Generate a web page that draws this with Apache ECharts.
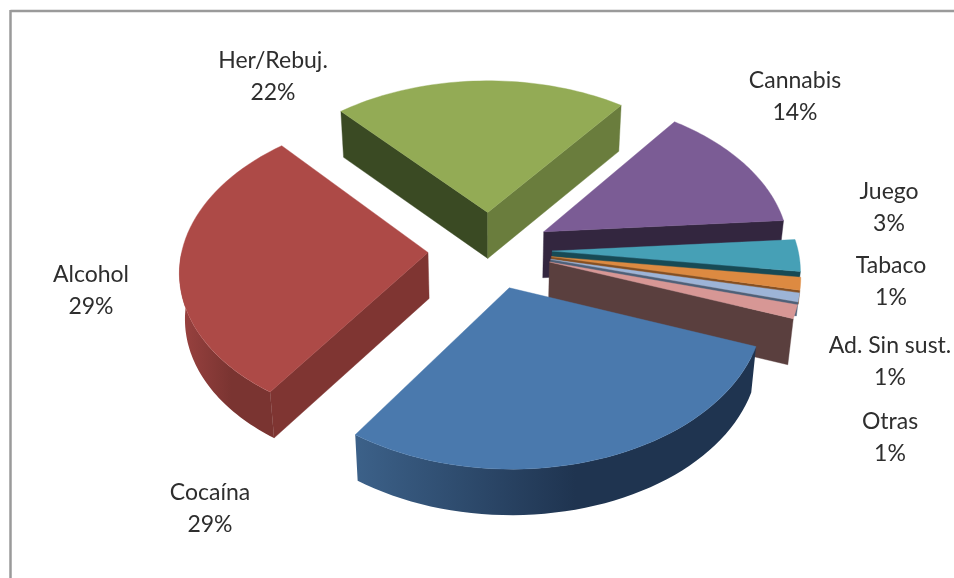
<!DOCTYPE html>
<html>
<head>
    <meta charset="utf-8" />
    <script src="https://cdn.jsdelivr.net/npm/echarts@6/dist/echarts.min.js"></script>
    <style>
        html, body { margin: 0; padding: 0; background: #fff; }
    </style>
</head>
<body>
    <div id="main" style="width:954px;height:578px;"></div>
    <script type="text/javascript">
        // values, clockwise from the start angle
        var categories = ['Cocaína', 'Alcohol', 'Her/Rebuj.', 'Cannabis', 'Juego', 'Tabaco', 'Ad. Sin sust.', 'Otras'];
        var shares = [28.8, 29.0, 21.8, 13.5, 3.3, 1.3, 0.9, 1.4];

        // colours per slice
        var topColors = ['#4a79ad', '#ad4a47', '#93ab55', '#7b5c95', '#46a0b6', '#dd8a41', '#9db4d7', '#d79795'];
        var startCutColors = ['#2b4668', '#7f3532', '#3a4a23', '#4a3859', '#1f5a68', '#854f22', '#4e6078', '#5a3f3e'];
        var endCutColors = ['#2b4668', '#823733', '#6a7d3d', '#33263f', '#174a55', '#854f22', '#4e6078', '#5a3f3e'];
        var sideLeftColors = ['#3c6189', '#9a4240', '#6a7d3d', '#4a3859', '#1f5a68', '#854f22', '#4e6078', '#5a3f3e'];
        var sideRightColors = ['#1f3450', '#7a3431', '#6a7d3d', '#4a3859', '#1f5a68', '#854f22', '#4e6078', '#5a3f3e'];

        // label anchors in the picture (centre of the two text lines)
        var labelAnchors = [[210, 509], [91, 291], [273, 77], [795, 97], [889, 208], [891, 282], [890, 362], [890, 438]];

        var START_ANGLE = 110.5;  // degrees clockwise from the back of the pie
        var CX = 490, CY = 250;   // where the pie axis meets the picture
        var RADIUS = 246;
        var EXPLODE = 62;
        var TILT = 0.623;
        var FOCAL = 2300;
        var DEPTH = 46;
        var THIN_DEPTH = 14;      // thin slices sit on each other, only a band of their side shows
        var THIN_SHARE = 5;
        var SHRINK_PER_PX = 0.018 / 46;
        var ARC_STEPS = 48;

        var total = shares.reduce(function (a, b) { return a + b; }, 0);
        var slices = [];
        var cursor = START_ANGLE;
        shares.forEach(function (v, i) {
            var sweep = v / total * 360;
            slices.push({
                index: i,
                from: cursor,
                to: cursor + sweep,
                mid: cursor + sweep / 2,
                depth: (v < THIN_SHARE && i < shares.length - 1) ? THIN_DEPTH : DEPTH
            });
            cursor += sweep;
        });
        // paint from the back of the pie to the front
        var paintOrder = slices.slice().sort(function (a, b) {
            return -Math.cos(a.mid * Math.PI / 180) - -Math.cos(b.mid * Math.PI / 180);
        }).map(function (s) { return s.index; });

        // x to the right, y towards the viewer, drop = pixels below the top face
        function project(x, y, drop) {
            var s = FOCAL / (FOCAL - y);
            return [
                CX + x * s * (1 - drop * SHRINK_PER_PX),
                CY + y * TILT * s + drop
            ];
        }
        function rimPoint(slice, deg, drop) {
            var m = slice.mid * Math.PI / 180, a = deg * Math.PI / 180;
            return project(
                EXPLODE * Math.sin(m) + RADIUS * Math.sin(a),
                -EXPLODE * Math.cos(m) - RADIUS * Math.cos(a),
                drop
            );
        }
        function tipPoint(slice, drop) {
            var m = slice.mid * Math.PI / 180;
            return project(EXPLODE * Math.sin(m), -EXPLODE * Math.cos(m), drop);
        }
        function facesViewer(deg) {
            return -Math.cos(deg * Math.PI / 180) > 0;
        }
        function arcPoints(slice, from, to, drop) {
            var pts = [];
            for (var k = 0; k <= ARC_STEPS; k++) {
                pts.push(rimPoint(slice, from + (to - from) * k / ARC_STEPS, drop));
            }
            return pts;
        }
        function poly(points, fill) {
            return {
                type: 'polygon',
                shape: { points: points },
                style: { fill: fill, stroke: typeof fill === 'string' ? fill : null, lineWidth: 0.4 }
            };
        }

        function renderSlice(params, api) {
            var i = api.value(0);
            var s = slices[i];
            var d = s.depth;
            var children = [];

            // flat cut faces
            if (facesViewer(s.from - 90)) {
                children.push(poly([tipPoint(s, 0), rimPoint(s, s.from, 0), rimPoint(s, s.from, d), tipPoint(s, d)], startCutColors[i]));
            }
            if (facesViewer(s.to + 90)) {
                children.push(poly([tipPoint(s, 0), rimPoint(s, s.to, 0), rimPoint(s, s.to, d), tipPoint(s, d)], endCutColors[i]));
            }

            // rounded outer side, only the part turned to the viewer
            var a = Math.max(s.from, 90), b = Math.min(s.to, 270);
            if (b > a) {
                children.push(poly(arcPoints(s, a, b, 0).concat(arcPoints(s, a, b, d).reverse()), {
                    type: 'linear', x: 0, y: 0, x2: 1, y2: 0,
                    colorStops: [
                        { offset: 0, color: sideLeftColors[i] },
                        { offset: 0.55, color: sideRightColors[i] },
                        { offset: 1, color: sideRightColors[i] }
                    ]
                }));
            }

            // top
            children.push(poly([tipPoint(s, 0)].concat(arcPoints(s, s.from, s.to, 0)), topColors[i]));
            return { type: 'group', children: children };
        }

        function renderLabel(params, api) {
            var i = api.value(0);
            return {
                type: 'text',
                style: {
                    x: labelAnchors[i][0],
                    y: labelAnchors[i][1],
                    text: categories[i] + '\n' + Math.round(shares[i]) + '%',
                    font: '23px Lato',
                    lineHeight: 32,
                    fill: '#2e2e2e',
                    align: 'center',
                    verticalAlign: 'middle'
                }
            };
        }

        var myChart = echarts.init(document.getElementById('main'), null, { renderer: 'canvas' });
        var option = {
            animation: false,
            backgroundColor: '#fff',
            graphic: [
                { type: 'line', shape: { x1: 10.5, y1: 11, x2: 954, y2: 11 }, style: { stroke: '#9a9a9a', lineWidth: 2.5 } },
                { type: 'line', shape: { x1: 10.5, y1: 10, x2: 10.5, y2: 578 }, style: { stroke: '#9a9a9a', lineWidth: 2.5 } }
            ],
            series: [
                {
                    type: 'custom',
                    coordinateSystem: 'none',
                    renderItem: renderSlice,
                    data: paintOrder.map(function (i) { return [i]; }),
                    silent: true
                },
                {
                    type: 'custom',
                    coordinateSystem: 'none',
                    renderItem: renderLabel,
                    data: categories.map(function (c, i) { return [i]; }),
                    silent: true
                }
            ]
        };
        myChart.setOption(option);
    </script>
</body>
</html>
